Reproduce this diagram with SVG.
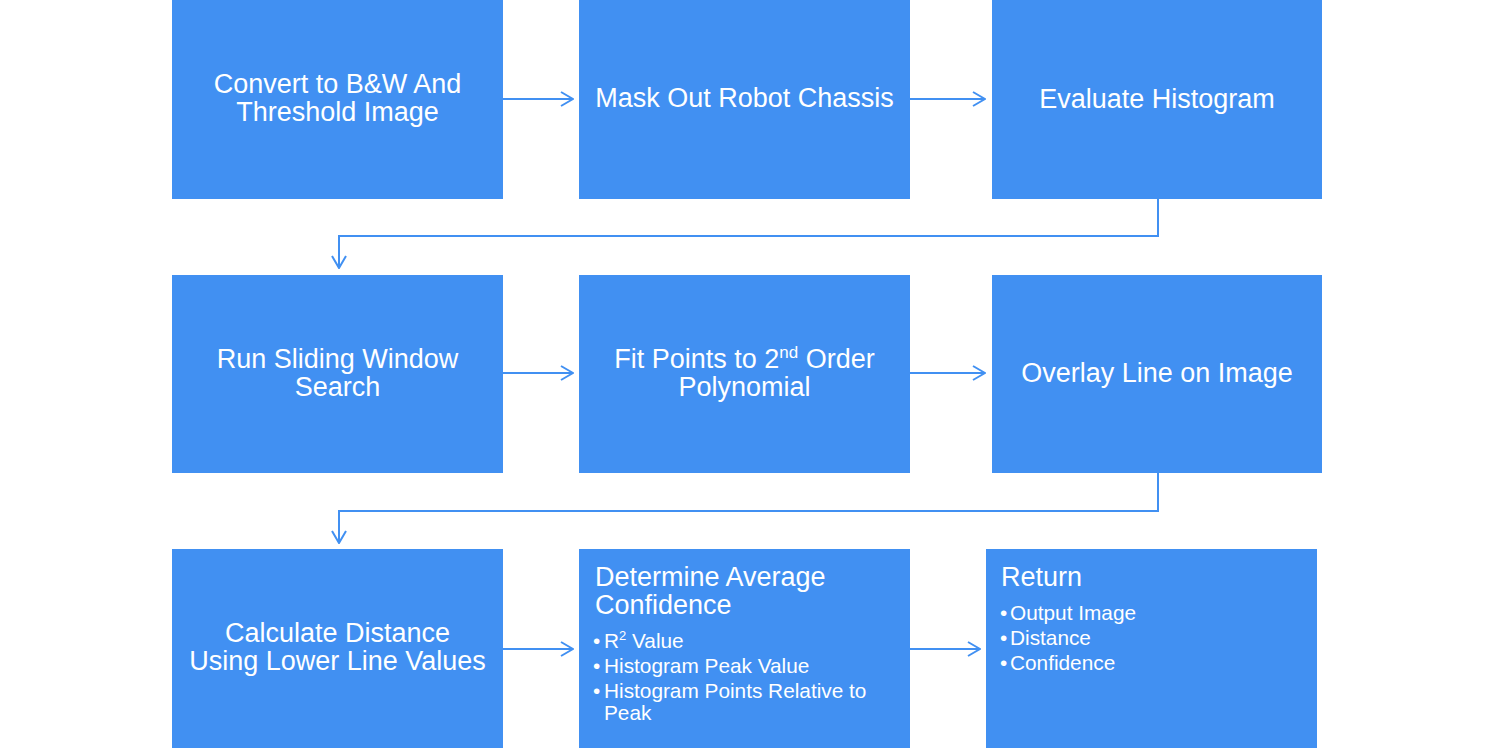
<svg xmlns="http://www.w3.org/2000/svg" width="1500" height="748" viewBox="0 0 1500 748">
<defs>
<style>
.box{fill:#4190F2}
.t{font-family:"Liberation Sans",Arial,sans-serif;font-size:27px;fill:#fff}
.c{text-anchor:middle}
.b{font-family:"Liberation Sans",Arial,sans-serif;font-size:20.8px;fill:#fff}
.con{fill:none;stroke:#4190F2;stroke-width:2}
</style>
<marker id="ah" markerWidth="14" markerHeight="16" refX="13" refY="8" orient="auto" markerUnits="userSpaceOnUse">
<path d="M1,1 L13,8 L1,15" fill="none" stroke="#4190F2" stroke-width="2"/>
</marker>
</defs>
<rect width="1500" height="748" fill="#fff"/>
<g id="connectors">
<path class="con" d="M503,99 H573" marker-end="url(#ah)"/>
<path class="con" d="M910,99 H985" marker-end="url(#ah)"/>
<path class="con" d="M1158,199 V236 H339 V268" marker-end="url(#ah)"/>
<path class="con" d="M503,373 H573" marker-end="url(#ah)"/>
<path class="con" d="M910,373 H985" marker-end="url(#ah)"/>
<path class="con" d="M1158,473 V511 H339 V543" marker-end="url(#ah)"/>
<path class="con" d="M503,649 H573" marker-end="url(#ah)"/>
<path class="con" d="M910,649 H980" marker-end="url(#ah)"/>
</g>
<g id="n1"><rect class="box" x="172" y="0" width="331" height="199"/>
<text class="t c" x="337.5" y="93">Convert to B&amp;W And</text><text class="t c" x="337.5" y="121">Threshold Image</text></g>
<g id="n2"><rect class="box" x="579" y="0" width="331" height="199"/>
<text class="t c" x="744.5" y="107">Mask Out Robot Chassis</text></g>
<g id="n3"><rect class="box" x="992" y="0" width="330" height="199"/>
<text class="t c" x="1157" y="108">Evaluate Histogram</text></g>
<g id="n4"><rect class="box" x="172" y="275" width="331" height="198"/>
<text class="t c" x="337.5" y="368">Run Sliding Window</text><text class="t c" x="337.5" y="396">Search</text></g>
<g id="n5"><rect class="box" x="579" y="275" width="331" height="198"/>
<text class="t c" x="744.5" y="368">Fit Points to 2<tspan font-size="17" dy="-10">nd</tspan><tspan dy="10"> Order</tspan></text><text class="t c" x="744.5" y="396">Polynomial</text></g>
<g id="n6"><rect class="box" x="992" y="275" width="330" height="198"/>
<text class="t c" x="1157" y="382">Overlay Line on Image</text></g>
<g id="n7"><rect class="box" x="172" y="549" width="331" height="199"/>
<text class="t c" x="337.5" y="642">Calculate Distance</text><text class="t c" x="337.5" y="670">Using Lower Line Values</text></g>
<g id="n8"><rect class="box" x="579" y="549" width="331" height="199"/>
<text class="t" x="595" y="586">Determine Average</text><text class="t" x="595" y="614">Confidence</text>
<text class="b" x="593" y="648">•</text><text class="b" x="604" y="648">R<tspan font-size="13" dy="-8">2</tspan><tspan dy="8"> Value</tspan></text>
<text class="b" x="593" y="673">•</text><text class="b" x="604" y="673">Histogram Peak Value</text>
<text class="b" x="593" y="698">•</text><text class="b" x="604" y="698">Histogram Points Relative to</text>
<text class="b" x="604" y="720">Peak</text></g>
<g id="n9"><rect class="box" x="986" y="549" width="331" height="199"/>
<text class="t" x="1001" y="586">Return</text>
<text class="b" x="1000" y="620">•</text><text class="b" x="1010" y="620">Output Image</text>
<text class="b" x="1000" y="645">•</text><text class="b" x="1010" y="645">Distance</text>
<text class="b" x="1000" y="670">•</text><text class="b" x="1010" y="670">Confidence</text></g>
</svg>
